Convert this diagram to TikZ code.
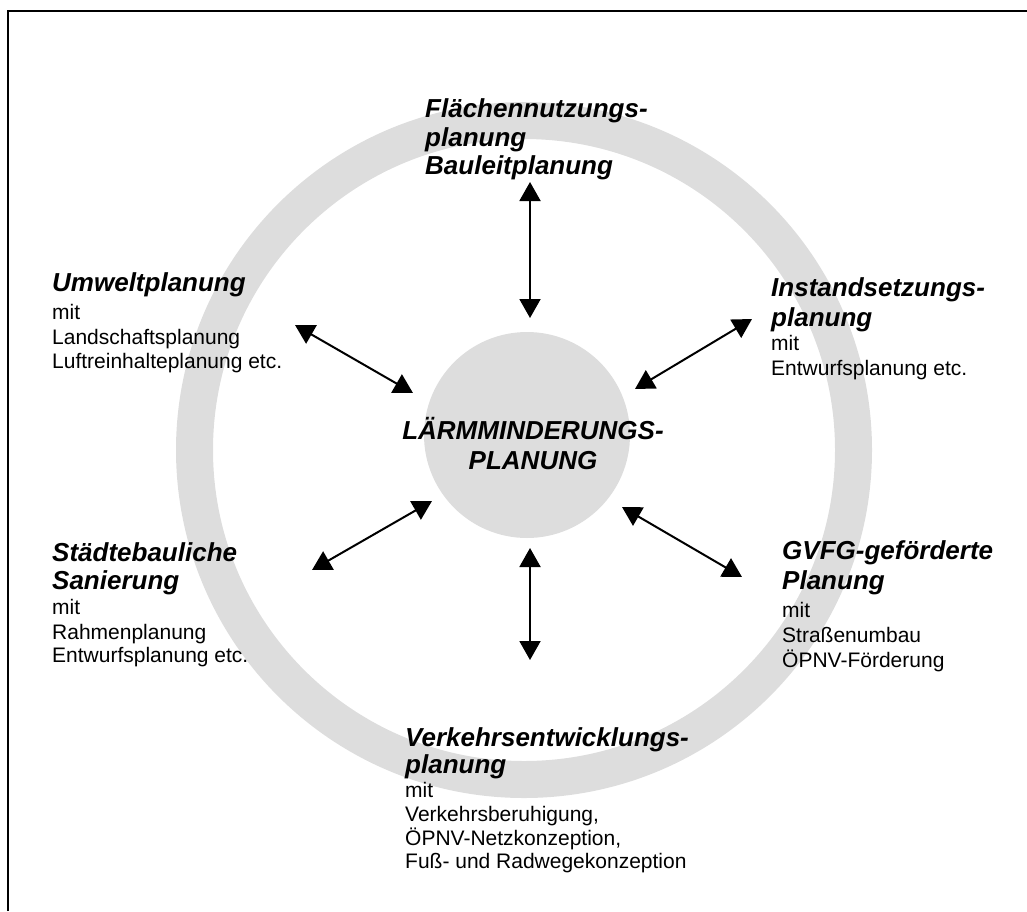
\documentclass[tikz,border=0pt]{standalone}
\usepackage{fontspec}
\setmainfont{Liberation Sans}
\usetikzlibrary{arrows.meta}
\definecolor{ringgray}{RGB}{221,221,221}
\begin{document}
\begin{tikzpicture}[x=1pt,y=-1pt,
  head/.style={anchor=base west, inner sep=0pt, font=\fontsize{26}{28}\selectfont\bfseries\itshape},
  body/.style={anchor=base west, inner sep=0pt, font=\fontsize{21}{24}\selectfont},
  link/.style={line width=2pt, {Triangle[length=19pt,width=21pt]}-{Triangle[length=19pt,width=21pt]}}]
\useasboundingbox (0,0) rectangle (1027,911);
% frame
\draw[line width=2pt] (7.5,911) -- (7.5,10.5) -- (1027,10.5);
% ring
\draw[ringgray, line width=37pt] (524,450) circle[radius=329.5pt];
% hub
\node[circle, fill=ringgray, minimum size=206pt, inner sep=0pt] (hub) at (527,435) {};
\node[font=\fontsize{26}{30}\selectfont\bfseries\itshape, align=center, inner sep=0pt] (hubtext) at (533,444) {LÄRMMINDERUNGS-\\PLANUNG};

% Flaechennutzung
\node[head] (f1) at (425,117) {Flächennutzungs-};
\node[head] (f2) at (425,146) {planung};
\node[head] (f3) at (425,174) {Bauleitplanung};
% Umwelt
\node[head] (u1) at (52,291) {Umweltplanung};
\node[body] (u2) at (52,319) {mit};
\node[body] (u3) at (52,344) {Landschaftsplanung};
\node[body] (u4) at (52,368) {Luftreinhalteplanung etc.};
% Instandsetzung
\node[head] (i1) at (771,296) {Instandsetzungs-};
\node[head] (i2) at (771,326) {planung};
\node[body] (i3) at (771,350) {mit};
\node[body] (i4) at (771,375) {Entwurfsplanung etc.};
% Staedtebau
\node[head] (s1) at (52,561) {Städtebauliche};
\node[head] (s2) at (52,589) {Sanierung};
\node[body] (s3) at (52,614) {mit};
\node[body] (s4) at (52,639) {Rahmenplanung};
\node[body] (s5) at (52,662) {Entwurfsplanung etc.};
% GVFG
\node[head] (g1) at (782,559) {GVFG-geförderte};
\node[head] (g2) at (782,589) {Planung};
\node[body] (g3) at (782,617) {mit};
\node[body] (g4) at (782,642) {Straßenumbau};
\node[body] (g5) at (782,667) {ÖPNV-Förderung};
% Verkehr
\node[head] (v1) at (405,746) {Verkehrsentwicklungs-};
\node[head] (v2) at (405,773) {planung};
\node[body] (v3) at (405,797) {mit};
\node[body] (v4) at (405,821) {Verkehrsberuhigung,};
\node[body] (v5) at (405,845) {ÖPNV-Netzkonzeption,};
\node[body] (v6) at (405,868) {Fuß- und Radwegekonzeption};

% arrow ends
\coordinate (aF) at (530,182);  \coordinate (bF) at (530,318);
\coordinate (aU) at (295,325);  \coordinate (bU) at (413,393);
\coordinate (aI) at (752,319);  \coordinate (bI) at (635,389);
\coordinate (aS) at (312,570);  \coordinate (bS) at (432,501);
\coordinate (aG) at (742,577);  \coordinate (bG) at (622,507);
\coordinate (aV) at (530,660);  \coordinate (bV) at (530,548);
\foreach \k in {F,U,I,S,G,V} \draw[link] (a\k) -- (b\k);
\end{tikzpicture}
\end{document}
